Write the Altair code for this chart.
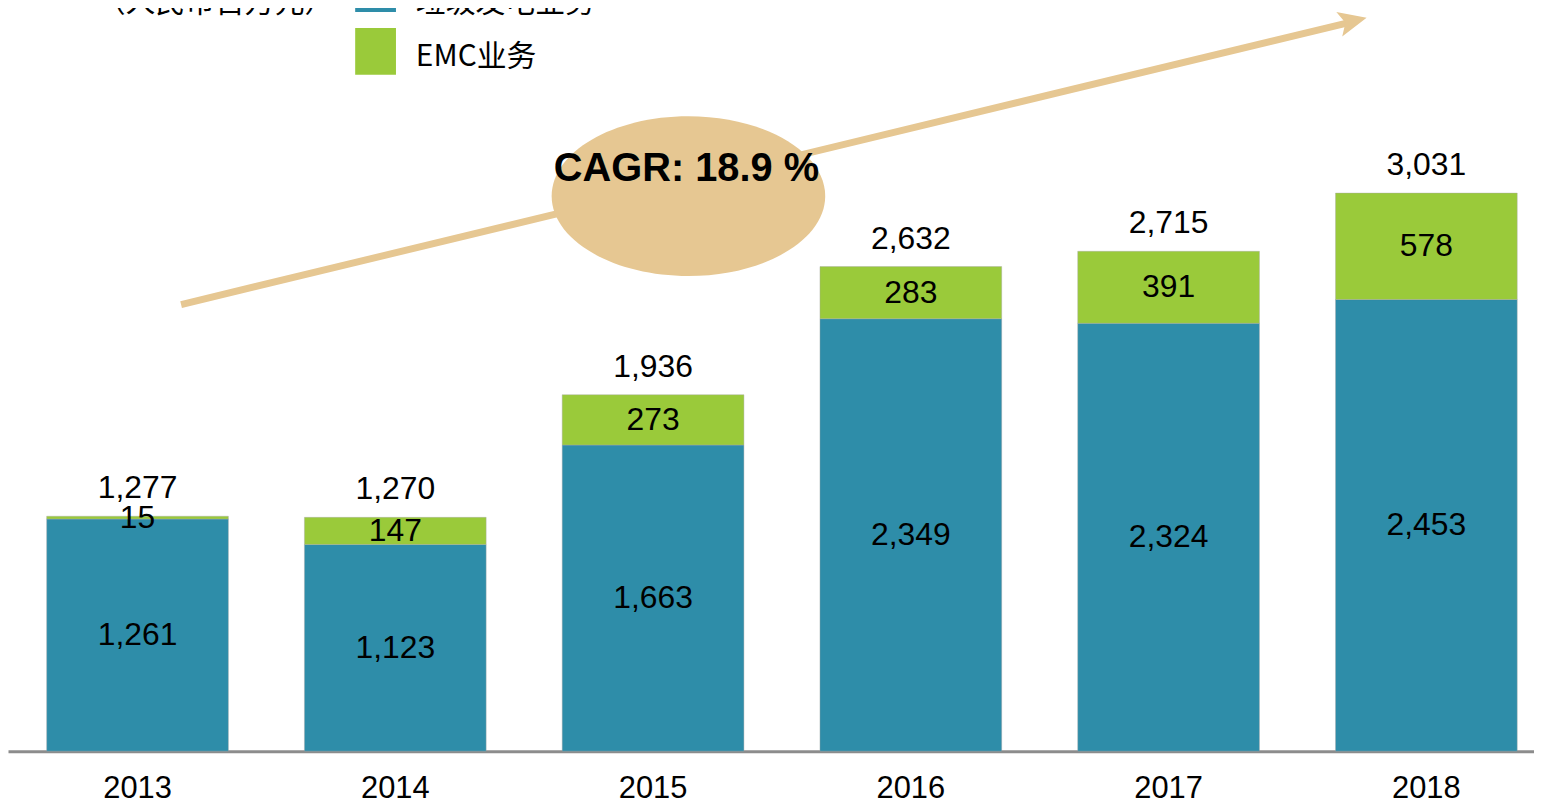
import altair as alt
import pandas as pd

years = ["2013", "2014", "2015", "2016", "2017", "2018"]
waste_power = [1261, 1123, 1663, 2349, 2324, 2453]
emc = [15, 147, 273, 283, 391, 578]
totals = [1277, 1270, 1936, 2632, 2715, 3031]

series_names = ["垃圾发电业务", "EMC业务"]
unit_label = "（人民币百万元）"
cagr_label = "CAGR: 18.9 %"

BLUE = "#2E8DA9"
GREEN = "#9ACA3A"
TAN = "#E6C792"
FONT = "Liberation Sans"
CJK = "Noto Sans CJK SC"

rows = []
for i, y in enumerate(years):
    rows.append({"year": y, "series": series_names[0], "start": 0, "end": waste_power[i],
                 "mid": waste_power[i] / 2, "label": f"{waste_power[i]:,}", "order": 0})
    rows.append({"year": y, "series": series_names[1], "start": waste_power[i],
                 "end": waste_power[i] + emc[i], "mid": waste_power[i] + emc[i] / 2,
                 "label": f"{emc[i]:,}", "order": 1})
df = pd.DataFrame(rows)
tot_df = pd.DataFrame({"year": years, "total": totals, "label": [f"{t:,}" for t in totals]})

x_scale = alt.Scale(domain=years, range=[0, 1556], paddingInner=0.295, paddingOuter=0.15)
y_scale = alt.Scale(domain=[0, 4025], nice=False)

x_axis = alt.Axis(title=None, labelAngle=0, ticks=False, grid=False,
                  domainColor="#8C8C8C", domainWidth=3,
                  labelFont=FONT, labelFontSize=31, labelColor="#000000",
                  labelPadding=23)

bars = alt.Chart(df).mark_bar(stroke="#A8A8A8", strokeWidth=0.6, strokeOpacity=0.7).encode(
    x=alt.X("year:N", scale=x_scale, sort=years, axis=x_axis),
    y=alt.Y("start:Q", scale=y_scale, axis=None),
    y2="end:Q",
    color=alt.Color("series:N", scale=alt.Scale(domain=series_names, range=[BLUE, GREEN]), legend=None),
)

seg_labels = alt.Chart(df).mark_text(font=FONT, fontSize=32, color="#000000", baseline="middle").encode(
    x=alt.X("year:N", scale=x_scale, sort=years, axis=x_axis),
    y=alt.Y("mid:Q", scale=y_scale, axis=None),
    text="label:N",
)

tot_labels = alt.Chart(tot_df).mark_text(font=FONT, fontSize=32, color="#000000",
                                         baseline="middle", dy=-28).encode(
    x=alt.X("year:N", scale=x_scale, sort=years, axis=x_axis),
    y=alt.Y("total:Q", scale=y_scale, axis=None),
    text="label:N",
)

# annotation: growth arrow, ellipse, CAGR text
arrow_line = alt.Chart(pd.DataFrame({"a": [0]})).mark_rule(color=TAN, strokeWidth=7).encode(
    x=alt.value(174), y=alt.value(296), x2=alt.value(1350), y2=alt.value(12))

arrow_head = alt.Chart(pd.DataFrame({"a": [0]})).mark_point(
    shape="M 1 0 L -1 -0.9 L -0.55 0 L -1 0.9 Z", filled=True, fill=TAN, opacity=1,
    size=800, angle=346.5, strokeWidth=0).encode(x=alt.value(1352), y=alt.value(11))

ellipse = alt.Chart(pd.DataFrame({"a": [0]})).mark_point(
    shape="M -1 0 A 1 0.584 0 1 0 1 0 A 1 0.584 0 1 0 -1 0 Z", filled=True, fill=TAN,
    opacity=1, size=275 * 275, strokeWidth=0).encode(x=alt.value(684), y=alt.value(187))

cagr = alt.Chart(pd.DataFrame({"t": [cagr_label]})).mark_text(
    font=FONT, fontSize=40, fontWeight="bold", color="#000000", baseline="middle").encode(
    x=alt.value(682), y=alt.value(160), text="t:N")

# legend
leg_blue = alt.Chart(pd.DataFrame({"a": [0]})).mark_rect(color=BLUE).encode(
    x=alt.value(349), x2=alt.value(390), y=alt.value(-45), y2=alt.value(2))
leg_green = alt.Chart(pd.DataFrame({"a": [0]})).mark_rect(color=GREEN).encode(
    x=alt.value(349), x2=alt.value(390), y=alt.value(18), y2=alt.value(65))
leg_text = alt.Chart(pd.DataFrame({"t": series_names, "yy": [-7, 47]})).mark_text(
    font=CJK, fontSize=30, color="#000000", align="left", baseline="middle").encode(
    x=alt.value(410), y=alt.Y("yy:Q", scale=None, axis=None), text="t:N")
unit_text = alt.Chart(pd.DataFrame({"t": [unit_label]})).mark_text(
    font=CJK, fontSize=30, color="#000000", align="right", baseline="middle").encode(
    x=alt.value(328), y=alt.value(-7), text="t:N")

chart = alt.layer(
    bars, seg_labels, tot_labels, arrow_line, arrow_head, ellipse, cagr,
    leg_blue, leg_green, leg_text, unit_text
).properties(
    width=1534, height=745,
    background="#FFFFFF",
    autosize=alt.AutoSizeParams(type="none"),
    padding={"left": 0, "top": 0, "right": 0, "bottom": 52},
).configure_view(strokeWidth=0, stroke="transparent")

chart.save("out.html", embed_options={"renderer": "svg", "actions": False})
